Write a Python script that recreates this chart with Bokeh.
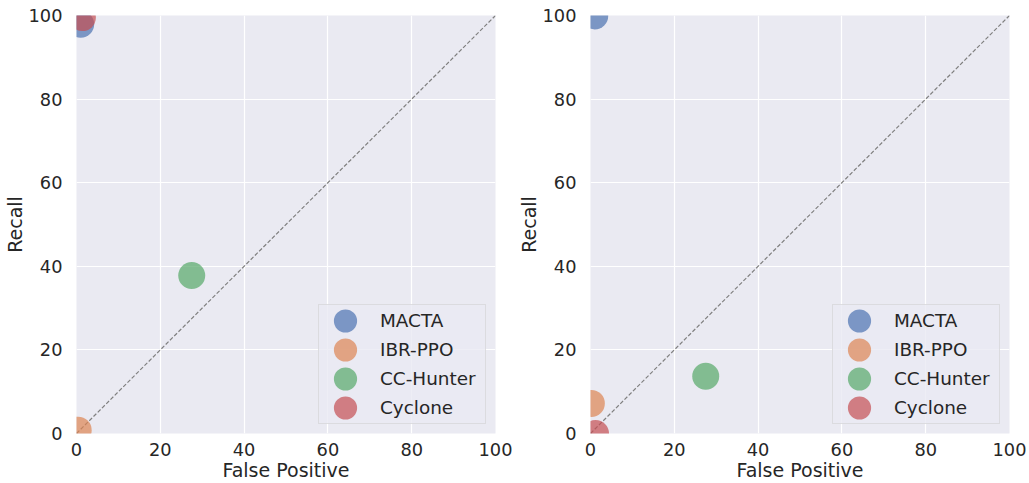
from bokeh.plotting import figure
from bokeh.layouts import row
from bokeh.models import Range1d, FixedTicker, Legend, LegendItem, ColumnDataSource
from bokeh.embed import file_html
from bokeh.resources import INLINE

methods = ["MACTA", "IBR-PPO", "CC-Hunter", "Cyclone"]
colors = ["#4C72B0", "#DD8452", "#55A868", "#C44E52"]

left_fp = [1.0, 0.4, 27.5, 1.4]
left_recall = [97.9, 0.8, 37.8, 99.5]

right_fp = [1.0, 0.2, 27.5, 1.2]
right_recall = [99.9, 7.2, 13.7, 0.0]

ticks = [0, 20, 40, 60, 80, 100]
diag = [0, 100]

FONT = "DejaVu Sans"
TXT = "#262626"
BG = "#EAEAF2"


def make_panel(fp, recall, width, right_border):
    p = figure(width=width, height=483, output_backend="svg", toolbar_location=None,
               x_range=Range1d(0, 100), y_range=Range1d(0, 100),
               min_border_left=75, min_border_right=right_border,
               min_border_top=15, min_border_bottom=50)
    p.background_fill_color = BG
    p.border_fill_color = "white"
    p.outline_line_color = None
    for ax in (p.xaxis, p.yaxis):
        ax.ticker = FixedTicker(ticks=ticks)
        ax.axis_line_color = None
        ax.major_tick_line_color = None
        ax.minor_tick_line_color = None
        ax.major_label_text_font = FONT
        ax.major_label_text_font_size = "17.8px"
        ax.major_label_text_color = TXT
        ax.axis_label_text_font = FONT
        ax.axis_label_text_font_size = "19px"
        ax.axis_label_text_color = TXT
        ax.axis_label_text_font_style = "normal"
    p.xaxis.axis_label = "False Positive"
    p.yaxis.axis_label = "Recall"
    p.xaxis.major_label_standoff = 3
    p.yaxis.major_label_standoff = 8
    p.xaxis.axis_label_standoff = 0
    p.yaxis.axis_label_standoff = 0
    for g in (p.xgrid, p.ygrid):
        g.ticker = FixedTicker(ticks=ticks)
        g.grid_line_color = "white"
        g.grid_line_width = 1.2

    p.line(diag, diag, line_color="#808080", line_dash="4 2", line_width=1.2)

    items = []
    for i, m in enumerate(methods):
        src = ColumnDataSource(dict(x=[fp[i]], y=[recall[i]]))
        r = p.ellipse("x", "y", source=src, width=27, height=27,
                      width_units="screen", height_units="screen",
                      fill_color=colors[i], fill_alpha=0.7, line_color=None)
        items.append(LegendItem(label=m, renderers=[r]))

    leg = Legend(items=items, location="bottom_right",
                 glyph_width=34, glyph_height=29, spacing=0,
                 padding=dict(left=9, right=8, top=1, bottom=1),
                 label_standoff=18, label_width=97, label_height=29, margin=9,
                 label_text_font=FONT, label_text_font_size="18.4px",
                 label_text_color=TXT,
                 background_fill_color=BG, background_fill_alpha=0.8,
                 border_line_color="#CCCCCC", border_line_width=1)
    p.add_layout(leg, "center")
    return p


p1 = make_panel(left_fp, left_recall, 514, 19)
p2 = make_panel(right_fp, right_recall, 515, 20)

layout = row(p1, p2)
open("out.html", "w").write(file_html(layout, INLINE))
